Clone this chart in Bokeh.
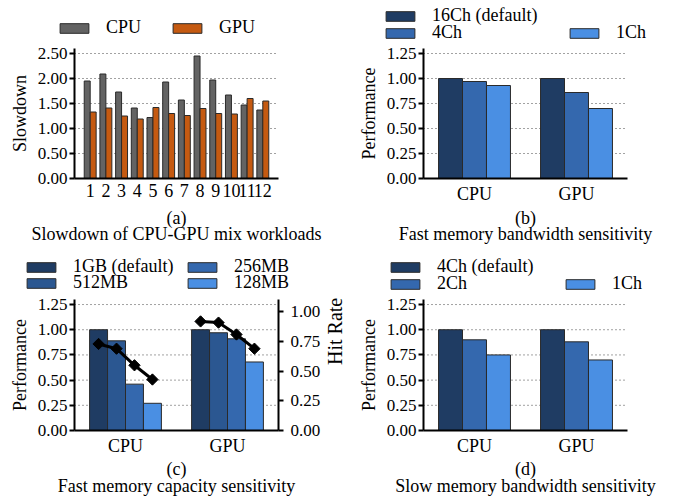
import numpy as np
from bokeh.plotting import figure
from bokeh.models import (Range1d, LinearAxis, FixedTicker, NumeralTickFormatter,
                          Legend, LegendItem, Label, ColumnDataSource)
from bokeh.core.properties import value
from bokeh.transform import dodge
from bokeh.layouts import column, row
from bokeh.embed import file_html
from bokeh.resources import INLINE

FONT = "Liberation Serif"

# ---------------- data ----------------
# (a) slowdown of mixed workloads
workloads = ["1", "2", "3", "4", "5", "6", "7", "8", "9", "10", "11", "12"]
slow_cpu = [1.95, 2.09, 1.73, 1.41, 1.22, 1.93, 1.57, 2.45, 1.97, 1.67, 1.47, 1.37]
slow_gpu = [1.33, 1.41, 1.25, 1.19, 1.42, 1.30, 1.26, 1.40, 1.30, 1.29, 1.60, 1.55]

procs = ["CPU", "GPU"]

# (b) fast memory bandwidth
fbw_labels = ["16Ch (default)", "4Ch", "1Ch"]
fbw_16ch = [1.00, 1.00]
fbw_4ch = [0.97, 0.86]
fbw_1ch = [0.93, 0.70]

# (c) fast memory capacity
cap_labels = ["1GB (default)", "512MB", "256MB", "128MB"]
cap_1gb = [1.00, 1.00]
cap_512mb = [0.89, 0.97]
cap_256mb = [0.46, 0.91]
cap_128mb = [0.27, 0.68]
hit_1gb = [0.73, 0.92]
hit_512mb = [0.69, 0.91]
hit_256mb = [0.55, 0.81]
hit_128mb = [0.43, 0.69]

# (d) slow memory bandwidth
sbw_labels = ["4Ch (default)", "2Ch", "1Ch"]
sbw_4ch = [1.00, 1.00]
sbw_2ch = [0.90, 0.88]
sbw_1ch = [0.75, 0.70]

perf_ticks = [0.0, 0.25, 0.5, 0.75, 1.0, 1.25]
slow_ticks = [0.0, 0.5, 1.0, 1.5, 2.0, 2.5]
hit_ticks = [0.0, 0.25, 0.5, 0.75, 1.0]

# ---------------- style ----------------
C_CPU = "#636363"
C_GPU = "#c55a11"
B_DARK = "#1f3c63"
B_512 = "#2b5791"
B_MID = "#3468ae"
B_LIGHT = "#4a8fe3"
EDGE = "#2a2a2a"
GRID = "#444444"
LEG_H = 20  # approx. legend item height


class Panel:
    """figure whose frame covers the whole canvas; axes are pinned inside it"""

    def __init__(self, fig_left, fig_top, W, H, px_l, px_r, px_top, px_zero, xa, ytop):
        self.fl, self.ft, self.W, self.H = fig_left, fig_top, W, H
        self.xa, self.ytop = xa, ytop
        ppx = (px_r - px_l) / (xa[1] - xa[0])
        x0 = xa[0] - (px_l - fig_left) / ppx
        x1 = xa[1] + (fig_left + W - px_r) / ppx
        self.ppy = (px_zero - px_top) / ytop
        self.px_top, self.px_zero = px_top, px_zero
        y0 = -(fig_top + H - px_zero) / self.ppy
        y1 = (px_zero - fig_top) / self.ppy
        p = figure(x_range=Range1d(x0, x1), y_range=Range1d(y0, y1), width=W, height=H,
                   output_backend="svg", toolbar_location=None,
                   min_border=0, min_border_left=0, min_border_right=0,
                   min_border_top=0, min_border_bottom=0)
        p.outline_line_color = None
        p.xgrid.grid_line_color = None
        p.ygrid.grid_line_color = None
        p.background_fill_color = "white"
        p.border_fill_color = "white"
        self.p = p

    def sx(self, page_x):
        return page_x - self.fl

    def sy(self, page_y):
        return self.ft + self.H - page_y

    def grid(self, ticks):
        t = [v for v in ticks if v > 0]
        self.p.segment(x0=[self.xa[0]] * len(t), x1=[self.xa[1]] * len(t), y0=t, y1=t,
                       line_color=GRID, line_width=1, line_dash="1 3")

    def axes(self, xticks, xlabels, yticks, ylabel):
        p = self.p
        xa = p.xaxis[0]
        xa.fixed_location = 0
        xa.bounds = (self.xa[0], self.xa[1])
        xa.ticker = FixedTicker(ticks=xticks)
        xa.major_label_overrides = {t: l for t, l in zip(xticks, xlabels)}
        xa.axis_line_width = 2
        xa.major_tick_line_color = None
        xa.major_tick_out = 0
        xa.major_tick_in = 0
        xa.minor_tick_line_color = None
        xa.minor_tick_out = 0
        xa.major_label_standoff = 5
        xa.major_label_text_font = FONT
        xa.major_label_text_font_size = "18px"
        xa.major_label_text_color = "black"
        ya = p.yaxis[0]
        ya.fixed_location = self.xa[0]
        ya.bounds = (0, self.ytop)
        ya.ticker = FixedTicker(ticks=yticks)
        ya.formatter = NumeralTickFormatter(format="0.00")
        ya.axis_line_width = 2
        ya.major_tick_line_width = 2
        ya.major_tick_out = 5
        ya.major_tick_in = 0
        ya.minor_tick_line_color = None
        ya.major_label_standoff = 2
        ya.major_label_text_font = FONT
        ya.major_label_text_font_size = "17px"
        ya.major_label_text_color = "black"
        ya.axis_label = ylabel
        ya.axis_label_text_font = FONT
        ya.axis_label_text_font_size = "18px"
        ya.axis_label_text_font_style = "normal"
        ya.axis_label_text_color = "black"
        ya.axis_label_standoff = 5

    def text(self, txt, page_y):
        self.p.add_layout(Label(x=(self.xa[0] + self.xa[1]) / 2, y=self.sy(page_y),
                                x_units="data", y_units="screen", text=txt,
                                text_align="center", text_baseline="middle",
                                text_font=FONT, text_font_size="18px",
                                text_color="black"))

    def legend(self, rend, label, page_x, page_cy):
        lg = Legend(items=[LegendItem(label=value(label), renderers=[rend])],
                    location=(self.sx(page_x), self.sy(page_cy) - LEG_H / 2),
                    orientation="vertical", border_line_color=None,
                    background_fill_alpha=0, padding=0, margin=0, spacing=0,
                    glyph_width=36, glyph_height=12, label_standoff=14,
                    label_height=12, label_text_font=FONT,
                    label_text_font_size="18px", label_text_color="black")
        self.p.add_layout(lg, "center")


def grouped(P, xpos, series, colors, width):
    n = len(series)
    rends = []
    for i, (vals, col) in enumerate(zip(series, colors)):
        src = ColumnDataSource(dict(x=xpos, val=vals))
        off = (i - (n - 1) / 2) * width
        r = P.p.vbar(x=dodge("x", off), top="val", width=width, source=src,
                     fill_color=col, line_color=EDGE, line_width=1)
        rends.append(r)
    return rends


xpos_w = [i + 0.5 for i in range(len(workloads))]
xpos_p = [i + 0.5 for i in range(len(procs))]

LW, RW = 348, 322
TH, BH = 250, 248

# ---------------- (a) ----------------
A = Panel(0, 0, LW, TH, 74, 278, 48, 178, (-0.5, 12.5), 2.6)
A.grid(slow_ticks)
ra = grouped(A, xpos_w, [slow_cpu, slow_gpu], [C_CPU, C_GPU], 0.38)
A.axes(xpos_w, workloads, slow_ticks, "Slowdown")
A.text("(a)", 217)
A.text("Slowdown of CPU-GPU mix workloads", 233)
A.legend(ra[0], "CPU", 56, 28)
A.legend(ra[1], "GPU", 169, 28)

# ---------------- (b) ----------------
B = Panel(LW, 0, RW, TH, 423, 627, 48, 178, (0, 2), 1.3)
B.grid(perf_ticks)
rb = grouped(B, xpos_p, [fbw_16ch, fbw_4ch, fbw_1ch], [B_DARK, B_MID, B_LIGHT], 0.235)
B.axes(xpos_p, procs, perf_ticks, "Performance")
B.text("(b)", 217)
B.text("Fast memory bandwidth sensitivity", 233)
B.legend(rb[0], fbw_labels[0], 382, 16)
B.legend(rb[1], fbw_labels[1], 382, 33)
B.legend(rb[2], fbw_labels[2], 566, 33)

# ---------------- (c) ----------------
C = Panel(0, TH, LW, BH, 74, 278, 299, 430, (0, 2), 1.3)
HIT_TOP = 1.105
hit_ppy = (C.px_zero - C.px_top) / HIT_TOP
C.p.extra_y_ranges = {"hit": Range1d(-(C.ft + C.H - C.px_zero) / hit_ppy,
                                     (C.px_zero - C.ft) / hit_ppy)}
C.grid(perf_ticks)
wc = 0.176
rc = grouped(C, xpos_p, [cap_1gb, cap_512mb, cap_256mb, cap_128mb],
             [B_DARK, B_512, B_MID, B_LIGHT], wc)
C.axes(xpos_p, procs, perf_ticks, "Performance")
hits = [hit_1gb, hit_512mb, hit_256mb, hit_128mb]
offs = [(i - 1.5) * wc for i in range(4)]
for i in range(3):
    s = ColumnDataSource(dict(x=xpos_p, y0=hits[i], y1=hits[i + 1]))
    C.p.segment(x0=dodge("x", offs[i]), y0="y0", x1=dodge("x", offs[i + 1]), y1="y1",
                source=s, line_color="black", line_width=3, y_range_name="hit")
for i in range(4):
    s = ColumnDataSource(dict(x=xpos_p, h=hits[i]))
    C.p.scatter(x=dodge("x", offs[i]), y="h", source=s, marker="square",
                angle=np.pi / 4, size=8, fill_color="black", line_color="black",
                y_range_name="hit")
rax = LinearAxis(y_range_name="hit", ticker=FixedTicker(ticks=hit_ticks),
                 formatter=NumeralTickFormatter(format="0.00"), axis_label="Hit Rate",
                 fixed_location=2, bounds=(0, HIT_TOP))
rax.axis_line_width = 2
rax.major_tick_line_width = 2
rax.major_tick_out = 5
rax.major_tick_in = 0
rax.minor_tick_line_color = None
rax.major_label_standoff = 7
rax.major_label_text_font = FONT
rax.major_label_text_font_size = "17px"
rax.major_label_text_color = "black"
rax.axis_label_text_font = FONT
rax.axis_label_text_font_size = "20px"
rax.axis_label_text_font_style = "normal"
rax.axis_label_text_color = "black"
rax.axis_label_standoff = 12
rax.axis_label_orientation = np.pi / 2
C.p.add_layout(rax, "right")
C.text("(c)", 468)
C.text("Fast memory capacity sensitivity", 485)
C.legend(rc[0], cap_labels[0], 23, 267)
C.legend(rc[1], cap_labels[1], 23, 283)
C.legend(rc[2], cap_labels[2], 184, 267)
C.legend(rc[3], cap_labels[3], 184, 283)

# ---------------- (d) ----------------
D = Panel(LW, TH, RW, BH, 423, 627, 299, 430, (0, 2), 1.3)
D.grid(perf_ticks)
rd = grouped(D, xpos_p, [sbw_4ch, sbw_2ch, sbw_1ch], [B_DARK, B_MID, B_LIGHT], 0.235)
D.axes(xpos_p, procs, perf_ticks, "Performance")
D.text("(d)", 468)
D.text("Slow memory bandwidth sensitivity", 485)
D.legend(rd[0], sbw_labels[0], 387, 267)
D.legend(rd[1], sbw_labels[1], 387, 284)
D.legend(rd[2], sbw_labels[2], 562, 284)

layout = column(row(A.p, B.p), row(C.p, D.p))
open("out.html", "w").write(file_html(layout, INLINE))
